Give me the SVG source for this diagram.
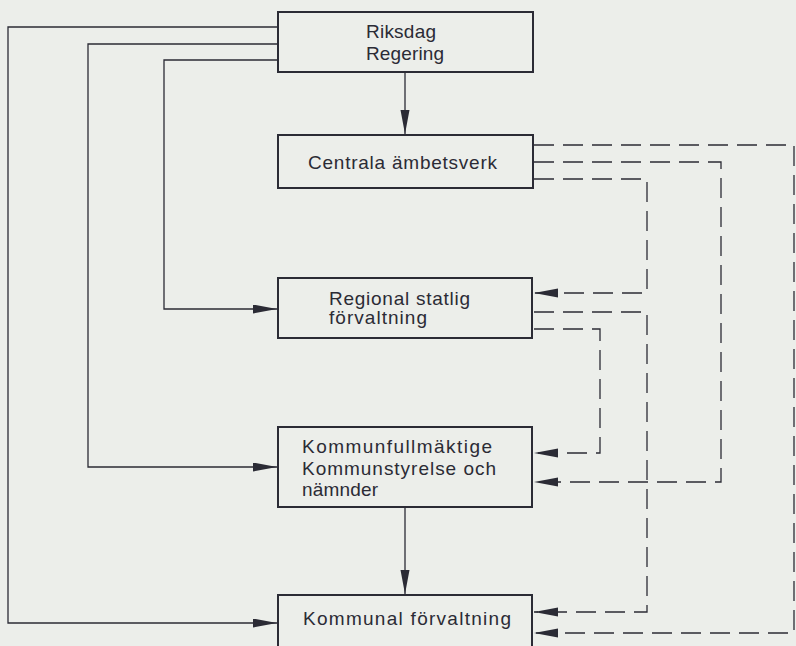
<svg xmlns="http://www.w3.org/2000/svg" width="796" height="646" viewBox="0 0 796 646">
<style>
.box{fill:none;stroke:#2b2b35;stroke-width:2}
.lbl{font-family:"Liberation Sans",Arial,sans-serif;font-size:19px;fill:#2b2b35}
.solid{fill:none;stroke:#2b2b35;stroke-width:1.3}
.dash{fill:none;stroke:#2b2b35;stroke-width:1.3;stroke-dasharray:20 9}
</style>
<defs>
<marker id="ah" markerUnits="userSpaceOnUse" markerWidth="25" markerHeight="10" refX="24" refY="4.5" orient="auto">
<path d="M0,0 L24,4.5 L0,9 z" fill="#2b2b35"/>
</marker>
</defs>
<rect x="0" y="0" width="796" height="646" fill="#eceeea"/>
<g id="connectors">
<path class="solid" d="M405,73 V134" marker-end="url(#ah)"/>
<path class="solid" d="M405,508 V594" marker-end="url(#ah)"/>
<path class="solid" d="M278,27 H8 V623 H277" marker-end="url(#ah)"/>
<path class="solid" d="M278,44 H88 V467 H277" marker-end="url(#ah)"/>
<path class="solid" d="M278,60 H164 V309 H277" marker-end="url(#ah)"/>
<path class="dash" d="M534,145 H794 V633 H534" marker-end="url(#ah)"/>
<path class="dash" d="M534,162 H721 V482 H534" marker-end="url(#ah)"/>
<path class="dash" d="M534,179 H647 V293 H534" marker-end="url(#ah)"/>
<path class="dash" d="M534,312 H647 V612 H534" marker-end="url(#ah)"/>
<path class="dash" d="M534,329 H600 V453 H534" marker-end="url(#ah)"/>
</g>
<g id="riksdag">
<rect class="box" x="278" y="12" width="255" height="60"/>
<text class="lbl" x="366" y="38" textLength="70" lengthAdjust="spacing">Riksdag</text>
<text class="lbl" x="366" y="60" textLength="78" lengthAdjust="spacing">Regering</text>
</g>
<g id="centrala">
<rect class="box" x="278" y="135" width="255" height="53"/>
<text class="lbl" x="308" y="169" textLength="189" lengthAdjust="spacing">Centrala ämbetsverk</text>
</g>
<g id="regional">
<rect class="box" x="278" y="278" width="254" height="60"/>
<text class="lbl" x="329" y="305" textLength="141" lengthAdjust="spacing">Regional statlig</text>
<text class="lbl" x="329" y="324" textLength="98" lengthAdjust="spacing">förvaltning</text>
</g>
<g id="kommunfullmaktige">
<rect class="box" x="278" y="427" width="254" height="80"/>
<text class="lbl" x="302" y="453" textLength="190" lengthAdjust="spacing">Kommunfullmäktige</text>
<text class="lbl" x="302" y="475" textLength="194" lengthAdjust="spacing">Kommunstyrelse och</text>
<text class="lbl" x="302" y="496" textLength="76" lengthAdjust="spacing">nämnder</text>
</g>
<g id="kommunal">
<rect class="box" x="278" y="595" width="254" height="70"/>
<text class="lbl" x="303" y="625" textLength="208" lengthAdjust="spacing">Kommunal förvaltning</text>
</g>
</svg>
